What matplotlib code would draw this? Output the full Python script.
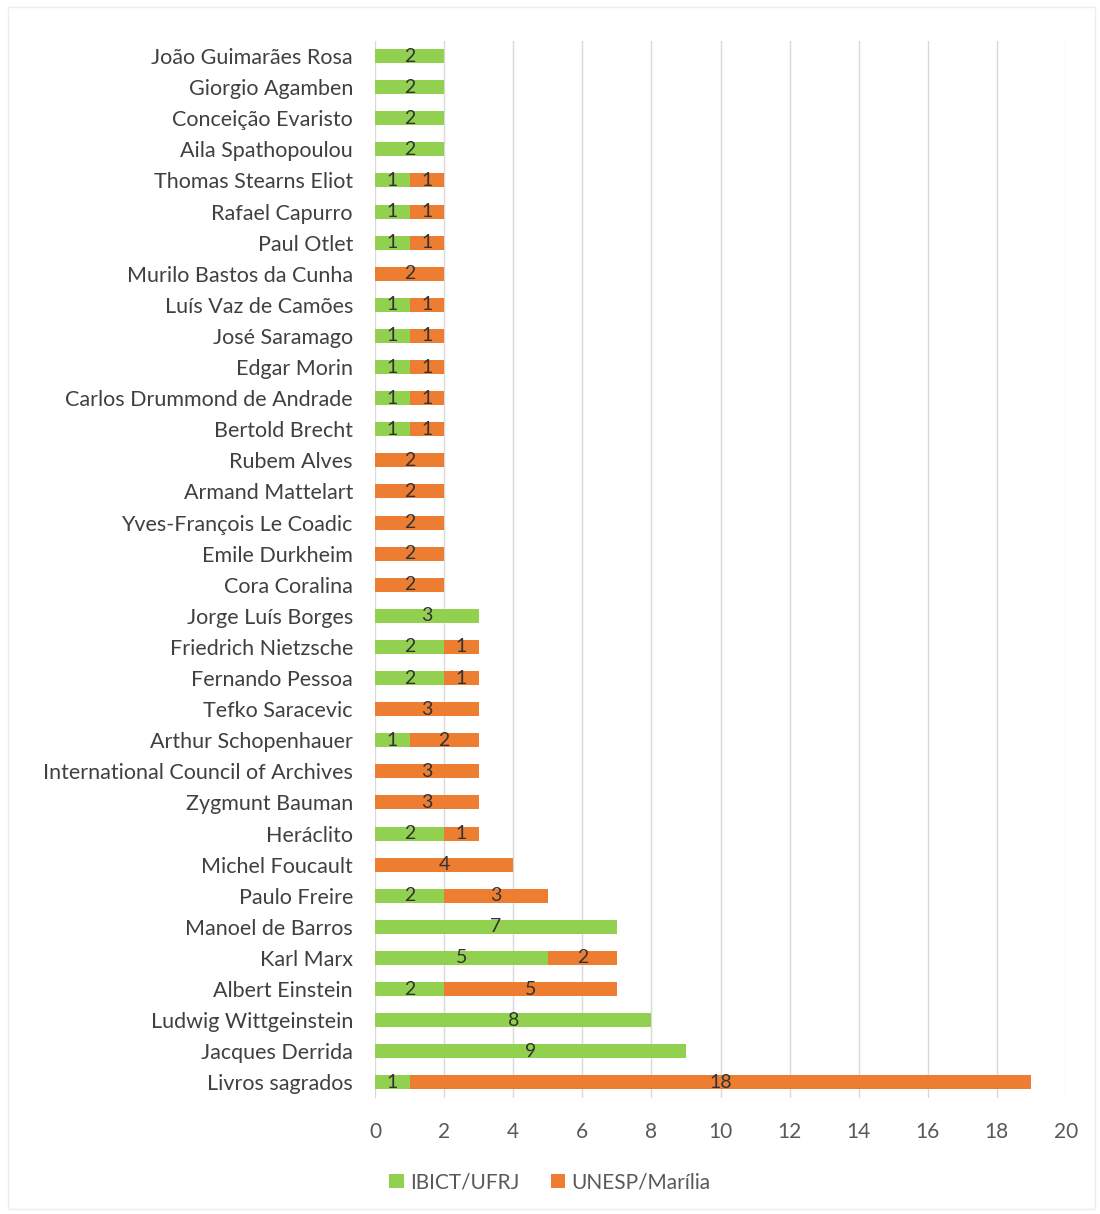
import matplotlib
matplotlib.use('Agg')
import matplotlib.pyplot as plt
import numpy as np

# Categories listed bottom to top (as drawn on the y axis)
autores = ['Livros sagrados', 'Jacques Derrida', 'Ludwig Wittgeinstein', 'Albert Einstein',
           'Karl Marx', 'Manoel de Barros', 'Paulo Freire', 'Michel Foucault', 'Heráclito',
           'Zygmunt Bauman', 'International Council of Archives', 'Arthur Schopenhauer',
           'Tefko Saracevic', 'Fernando Pessoa', 'Friedrich Nietzsche', 'Jorge Luís Borges',
           'Cora Coralina', 'Emile Durkheim', 'Yves-François Le Coadic', 'Armand Mattelart',
           'Rubem Alves', 'Bertold Brecht', 'Carlos Drummond de Andrade', 'Edgar Morin',
           'José Saramago', 'Luís Vaz de Camões', 'Murilo Bastos da Cunha', 'Paul Otlet',
           'Rafael Capurro', 'Thomas Stearns Eliot', 'Aila Spathopoulou', 'Conceição Evaristo',
           'Giorgio Agamben', 'João Guimarães Rosa']
ibict = [1, 9, 8, 2, 5, 7, 2, 0, 2, 0, 0, 1, 0, 2, 2, 3,
         0, 0, 0, 0, 0, 1, 1, 1, 1, 1, 0, 1, 1, 1, 2, 2, 2, 2]
unesp = [18, 0, 0, 5, 2, 0, 3, 4, 1, 3, 3, 2, 3, 1, 1, 0,
         2, 2, 2, 2, 2, 1, 1, 1, 1, 1, 2, 1, 1, 1, 0, 0, 0, 0]
xticks = list(range(0, 21, 2))

verde = '#92D050'
laranja = '#ED7D31'
font = ['Lato', 'DejaVu Sans']
plt.rcParams['font.family'] = font

fig = plt.figure(figsize=(11, 12.14), dpi=100)
ax = fig.add_axes([0.341, 0.0956, 0.628, 0.871])

y = np.arange(len(autores))
ibict = np.array(ibict)
unesp = np.array(unesp)
b1 = ax.barh(y, ibict, height=0.45, color=verde, label='IBICT/UFRJ', zorder=3)
b2 = ax.barh(y, unesp, left=ibict, height=0.45, color=laranja, label='UNESP/Marília', zorder=3)

for bars, vals in ((b1, ibict), (b2, unesp)):
    labels = [str(v) if v > 0 else '' for v in vals]
    ax.bar_label(bars, labels=labels, label_type='center', fontsize=14, color='#333333')

ax.set_xlim(0, 20)
ax.set_ylim(-0.5, len(autores) - 0.5)
ax.set_xticks(xticks)
ax.set_yticks(y)
ax.set_yticklabels(autores)
ax.tick_params(axis='y', length=0, labelsize=15.5, labelcolor='#404040', pad=16)
ax.tick_params(axis='x', length=0, labelsize=15, labelcolor='#595959', pad=17)
ax.grid(axis='x', color='#D9D9D9', linewidth=1, zorder=0)
for s in ax.spines.values():
    s.set_visible(False)

fig.legend(handles=[b1, b2], loc='center', bbox_to_anchor=(0.5, 0.026), ncol=2,
           frameon=False, fontsize=15, handlelength=0.7, handleheight=0.7,
           handletextpad=0.3, columnspacing=1.5, labelcolor='#595959')

fig.patches.append(plt.Rectangle((0.007, 0.004), 0.988, 0.99, transform=fig.transFigure,
                                 fill=False, edgecolor='#EEEEEE', linewidth=1))

fig.savefig('out.png', dpi=100)
